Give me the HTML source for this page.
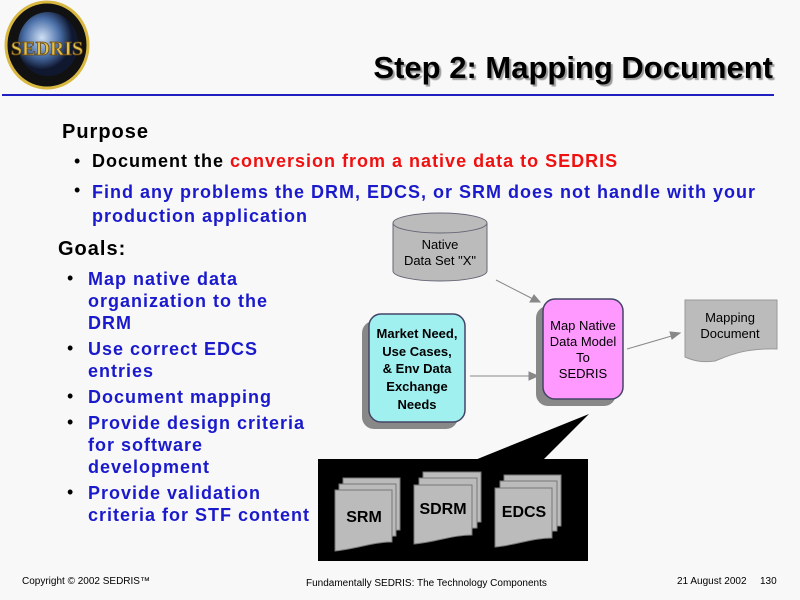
<!DOCTYPE html>
<html><head><meta charset="utf-8"><style>
body{margin:0;width:800px;height:600px;background:#f8f8f8;position:relative;overflow:hidden;font-family:"Liberation Sans",sans-serif}
.a{position:absolute;white-space:nowrap}
.b{font-weight:bold;font-size:18px;color:#1a1acc;letter-spacing:1px}
.dot{position:absolute;font-size:18px}
</style></head><body>
<svg width="800" height="600" style="position:absolute;left:0;top:0">
<defs><radialGradient id="g" cx="40%" cy="40%"><stop offset="0" stop-color="#cfe0f5"/><stop offset="0.6" stop-color="#4a6fa8"/><stop offset="1" stop-color="#101830"/></radialGradient></defs>
<ellipse cx="47" cy="45" rx="41" ry="43" fill="#111" stroke="#d8b840" stroke-width="3"/>
<ellipse cx="48" cy="44" rx="30" ry="32" fill="url(#g)"/>
<text x="47" y="55" font-family="Liberation Serif" font-weight="bold" font-size="20" fill="#e0c050" stroke="#6a4a10" stroke-width="0.8" text-anchor="middle">SEDRIS</text>
<line x1="2" y1="95" x2="774" y2="95" stroke="#2020c0" stroke-width="2"/>
<path d="M393 223 V271 A47 10 0 0 0 487 271 V223" fill="#bbb" stroke="#667" />
<ellipse cx="440" cy="223" rx="47" ry="10" fill="#bbb" stroke="#667"/>
<rect x="362" y="321" width="96" height="108" rx="12" fill="#888"/>
<rect x="369" y="314" width="96" height="108" rx="12" fill="#a0f0f0" stroke="#446" stroke-width="1.5"/>
<rect x="536" y="306" width="80" height="100" rx="12" fill="#888"/>
<rect x="543" y="299" width="80" height="100" rx="12" fill="#ff99ff" stroke="#446" stroke-width="1.5"/>
<path d="M685 300 H777 V349 C745 348 730 355 715 361 C700 363 692 360 685 357 Z" fill="#bbb" stroke="#999"/>
<g stroke="#888" fill="#888">
<line x1="496" y1="280" x2="535" y2="300"/><path d="M540 302 L530 302 L534 295Z"/>
<line x1="470" y1="376" x2="533" y2="376"/><path d="M538 376 L529 372 L529 380Z"/>
<line x1="627" y1="349" x2="675" y2="335"/><path d="M680 333 L670 332 L672 339Z"/>
</g>
<rect x="318" y="459" width="270" height="102" fill="#000"/>
<path d="M475 460 L589 414 L543 460Z" fill="#000"/>
<g fill="#bbb" stroke="#777">
<path d="M343 478 H400 V530 C380 530 365 537 343 540Z"/>
<path d="M339 484 H396 V536 C376 536 361 543 339 546Z"/>
<path d="M335 490 H392 V542 C372 542 357 549 335 551Z"/>
<path d="M423 472 H481 V522 C461 522 446 530 423 533Z"/>
<path d="M419 478 H477 V528 C457 528 442 536 419 539Z"/>
<path d="M414 485 H472 V535 C452 535 437 542 414 544Z"/>
<path d="M504 475 H561 V526 C541 526 526 533 504 536Z"/>
<path d="M500 481 H557 V531 C537 531 522 538 500 541Z"/>
<path d="M495 488 H552 V538 C532 538 517 545 495 547Z"/>
</g>
<g font-family="Liberation Sans" font-size="13" text-anchor="middle" fill="#000">
<text x="440" y="249">Native</text><text x="440" y="265">Data Set "X"</text>
<g font-weight="bold"><text x="417" y="338">Market Need,</text><text x="417" y="356">Use Cases,</text><text x="417" y="373">&amp; Env Data</text><text x="417" y="391">Exchange</text><text x="417" y="409">Needs</text></g>
<text x="583" y="330">Map Native</text><text x="583" y="346">Data Model</text><text x="583" y="362">To</text><text x="583" y="378">SEDRIS</text>
<text x="730" y="322">Mapping</text><text x="730" y="338">Document</text>
<g font-weight="bold" font-size="16"><text x="364" y="522">SRM</text><text x="443" y="514">SDRM</text><text x="524" y="517">EDCS</text></g>
</g>
</svg>
<div class="a" style="right:27px;top:50px;font-size:31px;font-weight:bold;color:#000;text-shadow:2px 2px 1px #999">Step 2: Mapping Document</div>
<div class="a" style="left:62px;top:121px;font-size:20px;font-weight:bold;letter-spacing:1px">Purpose</div>
<div class="dot" style="left:74px;top:151px">•</div>
<div class="a b" style="left:92px;top:151px;color:#000">Document the <span style="color:#f01010">conversion from a native data to SEDRIS</span></div>
<div class="dot" style="left:74px;top:180px">•</div>
<div class="a b" style="left:92px;top:180px;line-height:24px">Find any problems the DRM, EDCS, or SRM does not handle with your<br>production application</div>
<div class="a" style="left:58px;top:238px;font-size:20px;font-weight:bold;letter-spacing:1px">Goals:</div>
<div class="a b" style="left:88px;top:268px;line-height:22px">Map native data<br>organization to the<br>DRM</div>
<div class="a b" style="left:88px;top:338px;line-height:22px">Use correct EDCS<br>entries</div>
<div class="a b" style="left:88px;top:386px;line-height:22px">Document mapping</div>
<div class="a b" style="left:88px;top:412px;line-height:22px">Provide design criteria<br>for software<br>development</div>
<div class="a b" style="left:88px;top:482px;line-height:22px">Provide validation<br>criteria for STF content</div>
<div class="dot" style="left:67px;top:268px">•</div>
<div class="dot" style="left:67px;top:338px">•</div>
<div class="dot" style="left:67px;top:386px">•</div>
<div class="dot" style="left:67px;top:412px">•</div>
<div class="dot" style="left:67px;top:482px">•</div>
<div class="a" style="left:22px;top:576px;font-size:10px">Copyright © 2002 SEDRIS™</div>
<div class="a" style="left:306px;top:578px;font-size:10px">Fundamentally SEDRIS: The Technology Components</div>
<div class="a" style="left:677px;top:576px;font-size:10px">21 August 2002</div>
<div class="a" style="left:760px;top:576px;font-size:10px">130</div>
</body></html>
